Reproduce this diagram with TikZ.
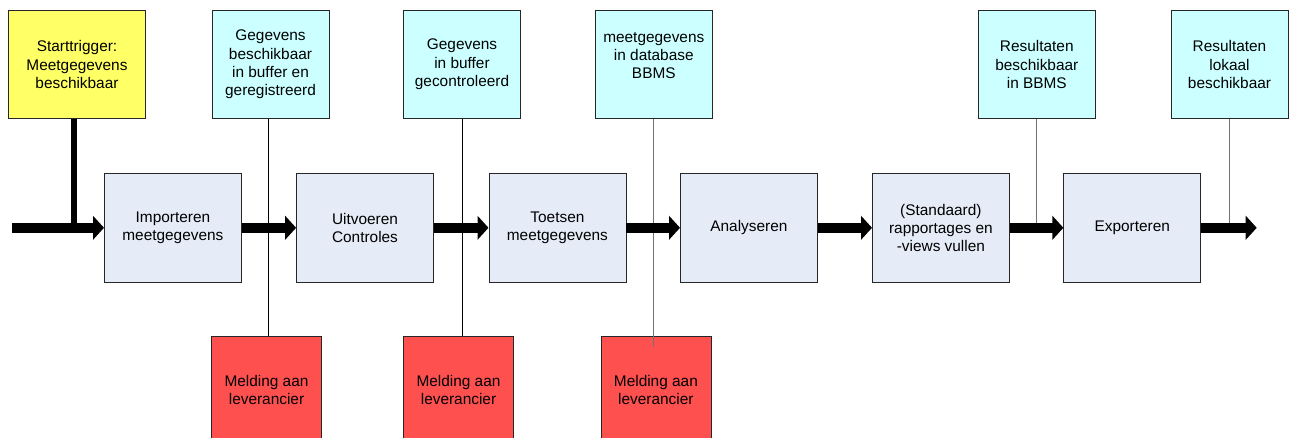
\documentclass[tikz,border=0pt]{standalone}
\usepackage{fontspec}
\setmainfont{Liberation Sans}
\usetikzlibrary{arrows.meta}
\definecolor{trigY}{HTML}{FFFF66}
\definecolor{stateC}{HTML}{CCFFFF}
\definecolor{procB}{HTML}{E5EBF7}
\definecolor{alertR}{HTML}{FF5050}
\definecolor{lineG}{HTML}{707070}
\tikzset{
  box/.style={draw=black!85, line width=0.8pt, inner sep=0pt, align=center,
    font=\fontsize{15.4}{18.3}\selectfont},
  trigbox/.style={box, fill=trigY, minimum width=137pt, minimum height=107.6pt},
  statebox/.style={box, fill=stateC, minimum width=117pt, minimum height=107.6pt},
  procbox/.style={box, fill=procB, minimum width=137pt, minimum height=109pt},
  alertbox/.style={box, fill=alertR, minimum width=110pt, minimum height=107pt},
  flow/.style={line width=10pt, -{Triangle[length=11pt,width=23.5pt]}},
  thinblack/.style={draw=black, line width=1pt},
  thingray/.style={draw=lineG, line width=1.2pt},
}
\begin{document}
\begin{tikzpicture}[x=1pt,y=-1pt]
\useasboundingbox (0,0) rectangle (1294,438);
\clip (0,0) rectangle (1294,438);
% top boxes
\node[trigbox] (trig) at (77,64.5) {Starttrigger:\\Meetgegevens\\beschikbaar};
\node[statebox] (cy1) at (270.5,64.5) {Gegevens\\beschikbaar\\in buffer en\\geregistreerd};
\node[statebox] (cy2) at (462,64.5) {Gegevens\\in buffer\\gecontroleerd};
\node[statebox] (cy3) at (653.8,64.5) {meetgegevens\\in database\\BBMS\\\mbox{}};
\node[statebox] (cy5) at (1036.8,64.5) {Resultaten\\beschikbaar\\in BBMS};
\node[statebox] (cy6) at (1229.5,64.5) {Resultaten\\lokaal\\beschikbaar};
% process boxes
\node[procbox] (p1) at (172.9,227.8) {Importeren\\meetgegevens};
\node[procbox] (p2) at (365,227.8) {Uitvoeren\\Controles};
\node[procbox] (p3) at (557.4,227.8) {Toetsen\\meetgegevens};
\node[procbox] (p4) at (748.9,227.8) {Analyseren};
\node[procbox] (p5) at (940.9,227.8) {(Standaard)\\rapportages en\\ -views vullen};
\node[procbox] (p6) at (1132.3,227.8) {Exporteren};
% alert boxes
\node[alertbox] (r1) at (266.5,390.2) {Melding aan\\leverancier};
\node[alertbox] (r2) at (458.5,390.2) {Melding aan\\leverancier};
\node[alertbox] (r3) at (655.9,390.2) {Melding aan\\leverancier};
% coordinates
\coordinate (start) at (11.7,227.8);
\coordinate (finish) at (1256.7,227.8);
\coordinate (tj) at (74,227.8);
\coordinate (e3) at (653.8,346.7);
% gray lines (behind arrows)
\draw[thingray] (cy3.south) -- (e3);
\draw[thingray] (cy5.south) -- (cy5.south |- p5.east);
\draw[thingray] (cy6.south) -- (cy6.south |- p6.east);
% trigger line
\draw[line width=6.7pt] (trig.south -| tj) -- (tj);
% flow arrows
\draw[flow] (start) -- (p1.west);
\draw[flow] (p1.east) -- (p2.west);
\draw[flow] (p2.east) -- (p3.west);
\draw[flow] (p3.east) -- (p4.west);
\draw[flow] (p4.east) -- (p5.west);
\draw[flow] (p5.east) -- (p6.west);
\draw[flow] (p6.east) -- (finish);
% black lines (over arrows)
\draw[thinblack] ([xshift=-1.8pt]cy1.south) -- ([xshift=-1.8pt]cy1.south |- r1.north);
\draw[thinblack] (cy2.south) -- (cy2.south |- r2.north);
\end{tikzpicture}
\end{document}
